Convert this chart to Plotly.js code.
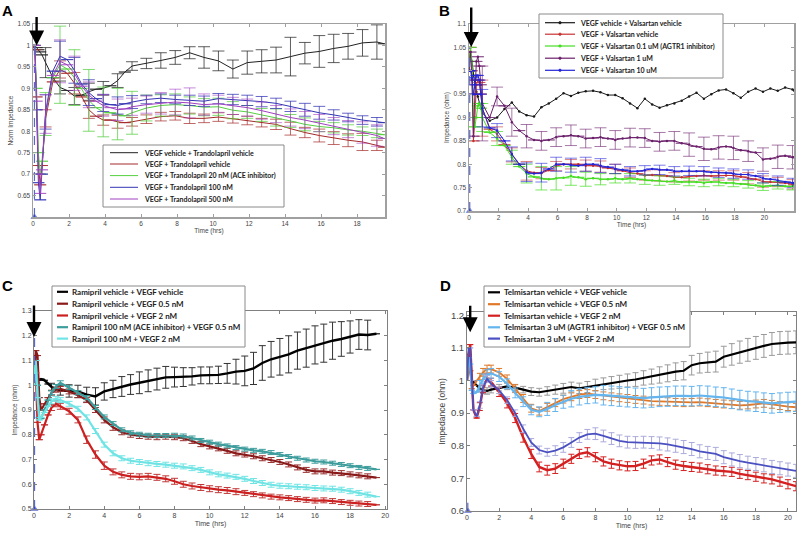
<!DOCTYPE html>
<html>
<head>
<meta charset="utf-8">
<script src="https://cdn.plot.ly/plotly-3.0.1.min.js"></script>
<style>html,body{margin:0;padding:0;background:#fff;}#chart{width:797px;height:535px;}</style>
</head>
<body>
<div id="chart"></div>
<script>
// ---------- Panel A: Trandolapril ----------
const tA = [0,0.1,0.2,0.3,0.4,0.5,
  0.7,1.1,1.5,1.9,2.3,2.7,3.1,3.5,3.9,4.3,4.7,5.1,5.5,
  6.3,7.1,7.9,8.7,9.5,10.3,11.1,11.9,12.7,13.5,14.3,15.1,15.9,16.7,17.5,18.3,19.1,
  19.5];
const namesA = ["VEGF vehicle + Trandolapril vehicle","VEGF + Trandolapril vehicle","VEGF + Trandolapril 20 nM (ACE inhibitor)","VEGF + Trandolapril 100 nM","VEGF + Trandolapril 500 nM"];
const a_black = [1.0,1.0,0.995,0.99,0.985,0.978,
  0.96,0.925,0.902,0.895,0.882,0.884,0.892,0.898,0.9,0.906,0.918,0.938,0.952,
  0.958,0.965,0.972,0.983,0.972,0.964,0.945,0.96,0.963,0.966,0.974,0.982,0.986,0.993,0.998,1.006,1.008,
  1.004];
const a_black_err = [null,null,null,null,null,null,
  0.035,null,0.015,null,0.02,null,0.02,null,0.016,null,0.016,null,0.01,
  0.012,0.018,0.016,0.014,0.025,0.023,0.021,0.027,0.027,0.03,0.045,0.025,0.037,0.033,0.03,0.031,0.04,
  null];
const a_red = [1.0,0.99,0.88,0.72,0.675,0.72,
  0.83,0.915,0.944,0.935,0.912,0.88,0.85,0.835,0.826,0.826,0.822,0.82,0.822,
  0.828,0.834,0.836,0.83,0.83,0.833,0.829,0.825,0.82,0.816,0.806,0.797,0.79,0.784,0.779,0.775,0.767,
  0.763];
const a_red_err = [null,null,null,null,null,null,
  0.02,null,0.02,null,0.025,null,0.02,null,0.012,null,0.015,null,0.01,
  0.01,0.01,0.01,0.012,0.01,0.01,0.01,0.01,0.01,0.012,0.015,0.012,0.015,0.015,0.015,0.02,0.012,
  null];
const a_green = [1.0,1.0,0.9,0.75,0.7,0.73,
  0.84,0.925,0.955,0.945,0.925,0.9,0.872,0.855,0.845,0.843,0.84,0.836,0.843,
  0.854,0.86,0.862,0.86,0.856,0.857,0.849,0.845,0.838,0.832,0.824,0.816,0.811,0.808,0.803,0.8,0.795,
  0.792];
const a_green_err = [null,null,null,null,null,null,
  0.05,null,0.09,null,0.065,null,0.072,null,0.058,null,0.06,null,0.05,
  0.03,0.025,0.025,0.02,0.02,0.02,0.02,0.015,0.015,0.02,0.015,0.015,0.012,0.012,0.012,0.01,0.01,
  null];
const a_blue = [1.0,1.0,0.85,0.68,0.64,0.7,
  0.845,0.94,0.975,0.967,0.942,0.91,0.89,0.876,0.866,0.862,0.86,0.864,0.868,
  0.874,0.877,0.874,0.872,0.87,0.876,0.874,0.872,0.869,0.865,0.858,0.85,0.843,0.838,0.832,0.826,0.822,
  0.82];
const a_blue_err = [null,null,null,null,null,null,
  0.04,null,0.035,null,0.03,null,0.03,null,0.02,null,0.02,null,0.015,
  0.01,0.01,0.01,0.012,0.012,0.012,0.012,0.012,0.012,0.012,0.012,0.015,0.015,0.012,0.01,0.01,0.01,
  null];
const a_purple = [1.0,1.0,0.87,0.7,0.655,0.71,
  0.84,0.93,0.963,0.955,0.935,0.905,0.885,0.87,0.86,0.855,0.85,0.852,0.857,
  0.862,0.865,0.868,0.866,0.862,0.864,0.859,0.855,0.848,0.84,0.832,0.826,0.819,0.812,0.805,0.797,0.79,
  0.783];
const a_purple_err = [null,null,null,null,null,null,
  0.045,null,0.05,null,0.04,null,0.03,null,0.025,null,0.025,null,0.02,
  0.02,0.025,0.03,0.035,0.025,0.02,0.02,0.02,0.02,0.02,0.02,0.02,0.02,0.02,0.02,0.025,0.025,
  null];

// ---------- Panel B: Valsartan ----------
const tB = [0,0.1,0.2,0.3,0.4,0.5,0.6,0.7,0.8,
  0.9,1.4,1.9,2.4,2.9,3.4,3.9,4.4,4.9,5.4,
  5.9,6.4,6.9,7.4,7.9,8.4,8.9,9.4,9.9,10.4,
  10.9,11.4,11.9,12.4,12.9,13.4,13.9,14.4,14.9,15.4,
  15.9,16.4,16.9,17.4,17.9,18.4,18.9,19.4,19.9,20.4,
  20.9,21.4,21.9,
  22];
const namesB = ["VEGF vehicle + Valsartan vehicle","VEGF + Valsartan vehicle","VEGF + Valsartan 0.1 uM (AGTR1 inhibitor)","VEGF + Valsartan 1 uM","VEGF + Valsartan 10 uM"];
const b_black = [1.0,1.04,1.02,0.99,0.97,0.955,0.945,0.93,0.92,
  0.91,0.893,0.9,0.918,0.932,0.913,0.905,0.902,0.922,0.93,
  0.94,0.952,0.946,0.953,0.956,0.957,0.954,0.948,0.948,0.941,
  0.93,0.92,0.94,0.928,0.921,0.926,0.93,0.936,0.945,0.953,
  0.94,0.95,0.958,0.96,0.952,0.942,0.955,0.962,0.955,0.962,
  0.957,0.964,0.96,
  0.958];
const b_red = [1.0,1.05,1.0,0.85,0.9,0.97,0.98,0.975,0.95,
  0.92,0.875,0.865,0.842,0.82,0.8,0.786,0.782,0.781,0.787,
  0.796,0.8,0.8,0.8,0.797,0.797,0.795,0.792,0.79,0.786,
  0.782,0.78,0.776,0.777,0.776,0.775,0.772,0.772,0.774,0.775,
  0.776,0.775,0.776,0.776,0.776,0.773,0.77,0.768,0.763,0.762,
  0.762,0.76,0.757,
  0.756];
const b_red_err = [null,null,null,null,null,null,null,null,null,
  0.06,null,0.015,null,0.015,null,0.02,null,0.012,null,
  0.01,null,0.01,null,0.012,null,0.012,null,0.01,null,
  0.01,null,0.01,null,0.012,null,0.01,null,0.01,null,
  0.01,null,0.01,null,0.01,null,0.012,null,0.012,null,
  0.01,null,0.01,
  null];
const b_green = [1.0,1.05,1.02,0.9,0.88,0.9,0.925,0.93,0.92,
  0.9,0.868,0.855,0.84,0.815,0.795,0.78,0.773,0.77,0.768,
  0.77,0.771,0.775,0.772,0.768,0.77,0.768,0.768,0.77,0.768,
  0.77,0.768,0.767,0.765,0.765,0.763,0.765,0.762,0.762,0.762,
  0.76,0.762,0.762,0.76,0.76,0.758,0.757,0.755,0.752,0.754,
  0.755,0.753,0.753,
  0.752];
const b_green_err = [null,null,null,null,null,null,null,null,null,
  0.03,null,0.015,null,0.015,null,0.02,null,0.025,null,
  0.025,null,0.02,null,0.015,null,0.012,null,0.01,null,
  0.01,null,0.01,null,0.01,null,0.008,null,0.008,null,
  0.008,null,0.008,null,0.008,null,0.008,null,0.008,null,
  0.008,null,0.008,
  null];
const b_purple = [1.0,1.04,0.98,0.86,0.95,1.02,1.03,1.01,0.97,
  0.93,0.9,0.945,0.925,0.89,0.872,0.86,0.852,0.85,0.852,
  0.858,0.86,0.862,0.86,0.855,0.856,0.858,0.855,0.852,0.855,
  0.857,0.857,0.856,0.85,0.848,0.85,0.85,0.845,0.842,0.838,
  0.833,0.832,0.836,0.838,0.835,0.83,0.828,0.825,0.81,0.812,
  0.816,0.818,0.815,
  0.815];
const b_purple_err = [null,null,null,null,null,null,null,null,null,
  0.08,null,0.02,null,0.03,null,0.025,null,0.02,null,
  0.02,null,0.022,null,0.02,null,0.02,null,0.02,null,
  0.02,null,0.02,null,0.02,null,0.02,null,0.025,null,
  0.025,null,0.025,null,0.025,null,0.022,null,0.025,null,
  0.025,null,0.025,
  null];
const b_blue = [1.0,1.0,0.985,0.95,0.97,0.99,0.99,0.98,0.95,
  0.92,0.878,0.872,0.85,0.822,0.8,0.783,0.78,0.782,0.79,
  0.8,0.8,0.798,0.797,0.8,0.8,0.797,0.794,0.79,0.788,
  0.785,0.785,0.787,0.79,0.788,0.788,0.785,0.785,0.786,0.785,
  0.785,0.783,0.782,0.782,0.78,0.778,0.778,0.775,0.77,0.768,
  0.765,0.762,0.76,
  0.76];
const b_blue_err = [null,null,null,null,null,null,null,null,null,
  0.04,null,0.015,null,0.015,null,0.02,null,0.02,null,
  0.015,null,0.015,null,0.015,null,0.015,null,0.01,null,
  0.01,null,0.01,null,0.01,null,0.01,null,0.01,null,
  0.01,null,0.01,null,0.01,null,0.01,null,0.01,null,
  0.01,null,0.01,
  null];

// ---------- Panel C: Ramipril ----------
const tC = [0,0.1,0.2,0.3,0.4,0.6,0.8,1.0,1.25,1.5,
  2,2.5,3,3.5,4,4.5,5,5.5,6,6.5,
  7,7.5,8,8.5,9,9.5,10,10.5,11,11.5,
  12,12.5,13,13.5,14,14.5,15,15.5,16,16.5,
  17,17.5,18,18.5,19,19.5];
const namesC = ["Ramipril vehicle + VEGF vehicle","Ramipril vehicle + VEGF 0.5 nM","Ramipril vehicle + VEGF 2 nM","Ramipril 100 nM (ACE inhibitor) + VEGF 0.5 nM","Ramipril 100 nM + VEGF 2 nM"];
const c_black = [1.0,1.01,1.02,1.022,1.025,1.02,1.005,0.993,0.985,0.98,
  0.977,0.975,0.962,0.955,0.975,0.985,0.995,1.003,1.01,1.018,
  1.025,1.032,1.033,1.033,1.036,1.04,1.04,1.042,1.048,1.055,
  1.058,1.068,1.09,1.105,1.115,1.125,1.14,1.15,1.163,1.17,
  1.18,1.187,1.195,1.205,1.203,1.208];
const c_black_err = [null,null,null,null,null,null,null,0.015,null,0.02,
  0.025,0.025,0.03,0.035,0.035,0.035,0.04,0.04,0.044,0.044,
  0.044,0.044,0.04,0.038,0.035,0.034,0.034,0.035,0.04,0.05,
  0.06,0.065,0.07,0.072,0.074,0.075,0.075,0.077,0.077,0.077,
  0.075,0.07,0.065,0.06,0.06,null];
const c_dred = [1.0,1.14,1.12,0.95,0.9,0.925,0.95,0.97,0.982,0.985,
  0.975,0.96,0.94,0.9,0.86,0.83,0.81,0.8,0.795,0.792,
  0.79,0.792,0.79,0.786,0.775,0.762,0.753,0.745,0.735,0.725,
  0.72,0.713,0.705,0.698,0.69,0.68,0.668,0.658,0.652,0.652,
  0.647,0.645,0.64,0.636,0.632,0.627];
const c_dred_err = [null,null,null,null,null,null,null,0.01,0.01,0.01,
  0.01,0.01,0.01,0.01,0.012,0.012,0.01,0.01,0.01,0.01,
  0.01,0.01,0.01,0.01,0.01,0.01,0.01,0.01,0.01,0.01,
  0.01,0.01,0.01,0.01,0.01,0.01,0.01,0.01,0.01,0.01,
  0.01,0.01,0.01,0.01,0.01,null];
const c_red = [1.0,1.05,0.85,0.78,0.8,0.84,0.88,0.91,0.925,0.915,
  0.895,0.86,0.78,0.72,0.675,0.65,0.638,0.632,0.63,0.632,
  0.628,0.622,0.612,0.6,0.593,0.587,0.582,0.578,0.575,0.57,
  0.565,0.56,0.555,0.55,0.547,0.544,0.54,0.537,0.534,0.535,
  0.532,0.528,0.525,0.522,0.52,0.517];
const c_red_err = [null,null,null,null,null,null,null,0.012,0.012,0.012,
  0.012,0.012,0.015,0.015,0.015,0.012,0.012,0.012,0.012,0.012,
  0.012,0.012,0.012,0.012,0.012,0.012,0.012,0.012,0.012,0.012,
  0.01,0.01,0.01,0.01,0.01,0.01,0.01,0.01,0.01,0.01,
  0.01,0.01,0.01,0.01,0.01,null];
const c_teal = [1.0,1.1,1.0,0.87,0.865,0.9,0.94,0.97,0.995,1.01,
  0.99,0.97,0.95,0.91,0.872,0.845,0.82,0.808,0.802,0.798,
  0.797,0.797,0.798,0.795,0.787,0.777,0.77,0.762,0.755,0.748,
  0.742,0.737,0.733,0.728,0.72,0.712,0.705,0.698,0.693,0.69,
  0.685,0.68,0.675,0.668,0.664,0.66];
const c_teal_err = [null,null,null,null,null,null,null,0.008,0.008,0.008,
  0.008,0.008,0.008,0.008,0.008,0.008,0.008,0.008,0.008,0.008,
  0.008,0.008,0.008,0.008,0.008,0.008,0.008,0.008,0.008,0.008,
  0.008,0.008,0.008,0.008,0.008,0.008,0.008,0.008,0.008,0.008,
  0.008,0.008,0.008,0.008,0.008,null];
const c_cyan = [1.0,1.1,0.95,0.86,0.87,0.89,0.915,0.935,0.945,0.94,
  0.925,0.905,0.87,0.815,0.76,0.725,0.705,0.695,0.69,0.685,
  0.682,0.679,0.675,0.672,0.665,0.658,0.648,0.64,0.635,0.63,
  0.622,0.613,0.605,0.598,0.594,0.592,0.59,0.588,0.585,0.583,
  0.582,0.578,0.572,0.565,0.558,0.55];
const c_cyan_err = [null,null,null,null,null,null,null,0.01,0.01,0.01,
  0.01,0.01,0.01,0.01,0.01,0.01,0.01,0.01,0.01,0.01,
  0.01,0.01,0.01,0.01,0.01,0.01,0.01,0.01,0.01,0.01,
  0.01,0.01,0.01,0.01,0.01,0.01,0.01,0.01,0.01,0.01,
  0.01,0.01,0.01,0.01,0.01,null];

// ---------- Panel D: Telmisartan ----------
const tD = [0,0.1,0.2,0.3,0.4,0.6,0.8,1.0,1.25,1.5,
  2,2.5,3,3.5,4,4.5,5,5.5,6,6.5,
  7,7.5,8,8.5,9,9.5,10,10.5,11,11.5,
  12,12.5,13,13.5,14,14.5,15,15.5,16,16.5,
  17,17.5,18,18.5,19,19.5,20,20.5];
const namesD = ["Telmisartan vehicle + VEGF vehicle","Telmisartan vehicle + VEGF 0.5 nM","Telmisartan vehicle + VEGF 2 nM","Telmisartan 3 uM (AGTR1 inhibitor) + VEGF 0.5 nM","Telmisartan 3 uM + VEGF 2 nM"];
const d_black = [1.0,1.06,1.03,1.0,0.995,0.985,0.975,0.97,0.968,0.972,
  0.978,0.982,0.978,0.972,0.966,0.964,0.968,0.972,0.976,0.98,
  0.976,0.98,0.986,0.99,0.993,0.996,1.0,1.003,1.008,1.012,
  1.017,1.022,1.027,1.03,1.047,1.053,1.056,1.058,1.073,1.08,
  1.087,1.094,1.1,1.106,1.112,1.115,1.116,1.117];
const d_black_err = [null,null,null,null,null,null,0.01,0.01,0.01,0.01,
  0.01,0.01,0.01,0.01,0.012,0.012,0.013,0.014,0.015,0.015,
  0.016,0.017,0.018,0.018,0.019,0.02,0.02,0.021,0.022,0.023,
  0.025,0.026,0.027,0.028,0.03,0.03,0.031,0.032,0.032,0.033,
  0.034,0.035,0.035,0.035,0.035,0.035,0.035,0.035];
const d_orange = [1.0,1.07,1.03,0.975,0.985,1.0,1.012,1.025,1.035,1.035,
  1.025,1.005,0.975,0.945,0.915,0.906,0.918,0.932,0.943,0.95,
  0.957,0.96,0.957,0.953,0.95,0.947,0.945,0.942,0.94,0.937,
  0.936,0.935,0.933,0.932,0.933,0.934,0.932,0.93,0.928,0.926,
  0.924,0.925,0.928,0.93,0.927,0.923,0.92,0.918];
const d_orange_err = [null,null,null,null,null,null,0.01,0.012,0.012,0.012,
  0.012,0.012,0.012,0.012,0.012,0.012,0.012,0.012,0.012,0.012,
  0.012,0.012,0.012,0.012,0.012,0.012,0.012,0.012,0.012,0.012,
  0.012,0.012,0.012,0.012,0.012,0.012,0.012,0.012,0.012,0.012,
  0.012,0.012,0.012,0.012,0.012,0.012,0.012,0.012];
const d_red = [1.0,1.08,1.11,1.0,0.91,0.885,0.92,0.975,1.008,0.995,
  0.965,0.93,0.885,0.825,0.775,0.735,0.725,0.73,0.745,0.76,
  0.775,0.78,0.765,0.752,0.745,0.74,0.737,0.738,0.745,0.755,
  0.758,0.75,0.742,0.738,0.735,0.733,0.728,0.724,0.722,0.72,
  0.714,0.71,0.705,0.7,0.697,0.69,0.682,0.676];
const d_red_err = [null,null,null,null,null,null,0.012,0.012,0.012,0.012,
  0.014,0.014,0.014,0.014,0.014,0.015,0.015,0.015,0.014,0.014,
  0.014,0.014,0.014,0.014,0.014,0.014,0.014,0.014,0.014,0.014,
  0.014,0.014,0.014,0.014,0.014,0.014,0.014,0.014,0.014,0.014,
  0.014,0.014,0.014,0.014,0.014,0.014,0.014,0.014];
const d_lblue = [1.0,1.07,1.05,0.97,0.96,0.965,0.985,1.005,1.018,1.022,
  1.012,0.99,0.962,0.935,0.91,0.904,0.913,0.925,0.935,0.944,
  0.95,0.954,0.956,0.955,0.953,0.951,0.949,0.947,0.946,0.948,
  0.95,0.951,0.953,0.953,0.952,0.954,0.953,0.95,0.948,0.944,
  0.94,0.937,0.935,0.932,0.93,0.932,0.934,0.935];
const d_lblue_err = [null,null,null,null,null,null,0.015,0.015,0.015,0.015,
  0.015,0.015,0.015,0.015,0.015,0.015,0.02,0.02,0.02,0.025,
  0.025,0.025,0.025,0.03,0.03,0.03,0.03,0.03,0.03,0.03,
  0.03,0.03,0.03,0.03,0.03,0.03,0.03,0.03,0.03,0.03,
  0.03,0.03,0.03,0.03,0.03,0.03,0.03,0.03];
const d_blue = [1.0,1.1,1.1,1.0,0.91,0.89,0.925,0.978,1.005,0.99,
  0.97,0.94,0.9,0.852,0.81,0.787,0.78,0.785,0.795,0.81,
  0.825,0.835,0.837,0.83,0.822,0.815,0.811,0.81,0.811,0.81,
  0.807,0.804,0.8,0.796,0.79,0.783,0.778,0.775,0.765,0.758,
  0.753,0.748,0.744,0.74,0.735,0.731,0.727,0.723];
const d_blue_err = [null,null,null,null,null,null,0.01,0.01,0.01,0.01,
  0.01,0.01,0.01,0.012,0.012,0.012,0.012,0.015,0.015,0.015,
  0.015,0.015,0.018,0.018,0.018,0.018,0.018,0.018,0.018,0.018,
  0.02,0.02,0.02,0.02,0.02,0.02,0.02,0.02,0.02,0.02,
  0.02,0.02,0.02,0.02,0.02,0.02,0.02,0.02];

// ---------- tick labels ----------
const yTicksA = [0.65,0.7,0.75,0.8,0.85,0.9,0.95,1,1.05];
const yTextA = ["0.65","0.7","0.75","0.8","0.85","0.9","0.95","1","1.05"];
const yTicksB = [0.7,0.75,0.8,0.85,0.9,0.95,1,1.05,1.1];
const yTextB = ["0.7","0.75","0.8","0.85","0.9","0.95","1","1.05","1.1"];
const yTicksC = [0.5,0.6,0.7,0.8,0.9,1,1.1,1.2,1.3];
const yTextC = ["0.5","0.6","0.7","0.8","0.9","1","1.1","1.2","1.3"];
const yTicksD = [0.6,0.7,0.8,0.9,1,1.1,1.2];
const yTextD = ["0.6","0.7","0.8","0.9","1","1.1","1.2"];
const xTicks18 = [0,2,4,6,8,10,12,14,16,18];
const xTicks20 = [0,2,4,6,8,10,12,14,16,18,20];
const xTicks22 = [0,2,4,6,8,10,12,14,16,18,20,22];
const panelLetters = ["A","B","C","D"];

// ---------- build ----------
function ax(n){return n>1?String(n):'';}
function mk(x,y,err,name,color,errColor,w,cap,n,extra){
  const t={type:'scatter',mode:'lines',x:x,y:y,name:name,
    xaxis:'x'+ax(n),yaxis:'y'+ax(n),
    line:{color:color,width:w},
    error_y:{type:'data',array:err,visible:true,color:errColor,thickness:1,width:cap},
    hoverinfo:'skip',showlegend:false};
  return Object.assign(t,extra||{});
}
const colA=['#222222','#a52a2a','#55d040','#3434b4','#a040c0'];
const errA=['rgba(40,40,40,0.75)','rgba(165,42,42,0.7)','rgba(85,208,64,0.75)','rgba(52,52,180,0.75)','rgba(160,64,192,0.6)'];
const colB=['#1a1a1a','#c83030','#44dd22','#6a1f6a','#2424d8'];
const errB=['#1a1a1a','rgba(200,48,48,0.6)','rgba(68,221,34,0.7)','rgba(106,31,106,0.6)','rgba(36,36,216,0.6)'];
const colC=['#000000','#8a1a1a','#cc2020','#3d9c9c','#70e4e4'];
const errC=['#333333','#9a3030','#c03838','#3d9c9c','#70e4e4'];
const colD=['#000000','#e07828','#d42020','#64b4ee','#4a50c0'];
const errD=['#9a9a9a','#e07828','#d42020','#64b4ee','#ababdc'];

const traces=[];
[[a_black,a_black_err],[a_red,a_red_err],[a_green,a_green_err],[a_blue,a_blue_err],[a_purple,a_purple_err]].forEach(function(s,i){
  traces.push(mk(tA,s[0],s[1],namesA[i],colA[i],errA[i],1,6,1));
});
[[b_black,null],[b_red,b_red_err],[b_green,b_green_err],[b_purple,b_purple_err],[b_blue,b_blue_err]].forEach(function(s,i){
  const t=mk(tB,s[0],s[1]||[],namesB[i],colB[i],errB[i],1,6,2,{mode:'lines+markers',marker:{size:2.5,color:colB[i]}});
  if(!s[1]) t.error_y={visible:false};
  traces.push(t);
});
[[c_black,c_black_err],[c_dred,c_dred_err],[c_red,c_red_err],[c_teal,c_teal_err],[c_cyan,c_cyan_err]].forEach(function(s,i){
  traces.push(mk(tC,s[0],s[1],namesC[i],colC[i],errC[i],i===0?2.4:2.2,3.5,3));
});
[[d_black,d_black_err],[d_orange,d_orange_err],[d_red,d_red_err],[d_lblue,d_lblue_err],[d_blue,d_blue_err]].forEach(function(s,i){
  traces.push(mk(tD,s[0],s[1],namesD[i],colD[i],errD[i],[2.2,1.8,2.4,2.2,1.8][i],3,4));
});
// addition markers (dashed vertical line with triangle at baseline)
const addY = {1:[0.6,1.0],2:[0.7,1.05],3:[0.5,1.2],4:[0.6,0.625]};
const addX = {1:0.08,2:0.05,3:0.03,4:0.05};
[1,2,3,4].forEach(function(n){
  traces.push({type:'scatter',mode:'lines+markers',x:[addX[n],addX[n]],y:addY[n],
    xaxis:'x'+ax(n),yaxis:'y'+ax(n),cliponaxis:false,hoverinfo:'skip',showlegend:false,
    line:{color:'#5868d0',width:1.2,dash:'dash'},
    marker:{symbol:'triangle-up',size:[6,0],color:'#2838c8'}});
});

const F='Liberation Sans, Arial, sans-serif';
function xax(dom,anchor,range,ticks,fs,lc,lw,title,tfs,so){
  return {domain:dom,anchor:anchor,range:range,tickmode:'array',tickvals:ticks,ticktext:ticks.map(String),
    showline:true,linecolor:lc,linewidth:lw,mirror:'ticks',ticks:'inside',ticklen:3,tickcolor:lc,
    showgrid:false,zeroline:false,automargin:false,tickfont:{family:F,size:fs,color:'#444'},
    title:{text:title,font:{family:F,size:tfs,color:'#444'},standoff:so}};
}
function yax(dom,anchor,range,ticks,text,fs,lc,lw,title,tfs,so){
  return {domain:dom,anchor:anchor,range:range,tickmode:'array',tickvals:ticks,ticktext:text,
    showline:true,linecolor:lc,linewidth:lw,mirror:'ticks',ticks:'inside',ticklen:3,tickcolor:lc,
    showgrid:false,zeroline:false,automargin:false,tickfont:{family:F,size:fs,color:'#444'},
    title:{text:title,font:{family:F,size:tfs,color:'#444'},standoff:so}};
}
const W=797,H=535;
function px(p){return p/W;}
function py(p){return 1-p/H;}

const shapes=[],annotations=[];
function legend(box,ys,x0,x1,tx,names,cols,fs,lw,dots){
  shapes.push({type:'rect',xref:'paper',yref:'paper',x0:px(box[0]),x1:px(box[2]),y0:py(box[3]),y1:py(box[1]),
    fillcolor:'white',line:{color:'#8a8a8a',width:1},layer:'above'});
  names.forEach(function(nm,i){
    shapes.push({type:'line',xref:'paper',yref:'paper',x0:px(x0),x1:px(x1),y0:py(ys[i]),y1:py(ys[i]),
      line:{color:cols[i],width:lw},layer:'above'});
    if(dots){
      const cx=(x0+x1)/2;
      shapes.push({type:'circle',xref:'paper',yref:'paper',x0:px(cx-1.3),x1:px(cx+1.3),y0:py(ys[i]+1.3),y1:py(ys[i]-1.3),
        fillcolor:cols[i],line:{color:cols[i],width:0.5},layer:'above'});
    }
    annotations.push({xref:'paper',yref:'paper',x:px(tx),y:py(ys[i]),xanchor:'left',yanchor:'middle',
      text:nm,showarrow:false,borderpad:0,font:{family:'Lato, Open Sans, sans-serif',size:fs,color:'#222',weight:'bold'}});
  });
}
legend([103,145,284,207],[152.7,164,175.6,187.3,199],110,138,143,namesA,colA,7,1,false);
legend([539,14,723,78],[22.7,34.2,46,58.2,70.3],545,575,579,namesB,colB,7,1.2,true);
legend([52,286,245,347],[291.8,303.7,315.5,327.2,338.6],57,68,71,namesC,colC,8,2.2,false);
legend([484,286,690,347],[292.3,304.2,315.7,327.3,338.6],488,500,503,namesD,colD,8,2.2,false);

// arrows marking VEGF addition
[[1,0.2,1.0,-30],[2,0.15,1.051,-41],[3,0.0,1.195,-33],[4,0.2,1.148,-28]].forEach(function(a){
  annotations.push({xref:'x'+ax(a[0]),yref:'y'+ax(a[0]),x:a[1],y:a[2],ax:0,ay:a[3],text:'',showarrow:true,
    arrowhead:2,arrowsize:1.25,arrowwidth:2.4,arrowcolor:'#000'});
});
// panel letters
[[0,7,1],[1,444,1],[2,8,276],[3,445,276]].forEach(function(l){
  annotations.push({xref:'paper',yref:'paper',x:px(l[1]),y:py(l[2]),xanchor:'center',yanchor:'top',
    text:'<b>'+panelLetters[l[0]]+'</b>',showarrow:false,borderpad:0,font:{family:F,size:15,color:'#000'}});
});

const layout={width:W,height:H,margin:{l:0,r:0,t:0,b:0},paper_bgcolor:'#fff',plot_bgcolor:'#fff',showlegend:false,
  xaxis: xax([px(33),px(385)],'y',[0,19.55],xTicks18,6.5,'#a0a0a0',1.5,'Time (hrs)',6.5,2),
  yaxis: yax([py(217),py(24)],'x',[0.6,1.05],yTicksA,yTextA,6.5,'#a0a0a0',1.5,'Norm Impedance',6.5,3),
  xaxis2:xax([px(469),px(794)],'y2',[0,22],xTicks22,6.5,'#a0a0a0',1.5,'Time (hrs)',6.5,2),
  yaxis2:yax([py(211),py(24)],'x2',[0.7,1.1],yTicksB,yTextB,6.5,'#a0a0a0',1.5,'Impedance (ohm)',6.5,3),
  xaxis3:xax([px(34),px(387)],'y3',[0,20.1],xTicks20,7,'#808080',1,'Time (hrs)',7,2),
  yaxis3:yax([py(509),py(311)],'x3',[0.5,1.3],yTicksC,yTextC,7,'#808080',1,'Impedance (ohm)',6.5,3),
  xaxis4:xax([px(467),px(796)],'y4',[0,20.5],xTicks20,7,'#808080',1,'Time (hrs)',7,2),
  yaxis4:yax([py(511),py(312)],'x4',[0.6,1.21],yTicksD,yTextD,9.5,'#808080',1,'Impedance (ohm)',8.5,3),
  shapes:shapes,annotations:annotations};

Plotly.newPlot('chart',traces,layout,{staticPlot:true,displayModeBar:false});
</script>
</body>
</html>
